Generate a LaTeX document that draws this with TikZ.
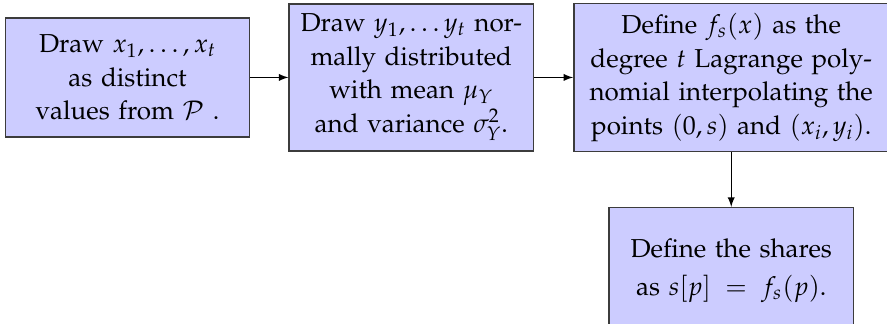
\documentclass[tikz,border=0pt]{standalone}
\usepackage[T1]{fontenc}
\usepackage{mathpazo}
\usepackage{xcolor}
\usetikzlibrary{arrows}
\usetikzlibrary{positioning, math}
\definecolor{boxfill}{RGB}{204,204,255}
\definecolor{boxline}{RGB}{60,60,60}

\tikzset{
  stepbox/.style={draw=boxline, line width=0.7pt, fill=boxfill, align=center,
    inner xsep=3pt, inner ysep=4.6pt, text width=105pt, minimum height=54pt,
    font=\fontsize{11.8pt}{15.2pt}\selectfont},
  flow/.style={-latex, line width=0.5pt},
}

\begin{document}
\begin{tikzpicture}
\tikzmath{
\gap=17.3;
\drop=24.8;
}
\useasboundingbox (-57.95pt,-112.05pt) rectangle (345.2pt,35.2pt);

\node[stepbox] (drawx) at (0,0) {Draw $x_1,\ldots,x_t$\\ as distinct\\ values from $\mathcal{P}$ .};
\node[stepbox, right=\gap pt of drawx] (drawy) {Draw $y_1,\ldots y_t$ nor-\\ mally distributed\\ with mean $\mu_Y$\\ and variance $\sigma_Y^2$.};
\node[stepbox, text width=139pt, inner xsep=2pt, right=17.7pt of drawy] (poly) {Define $f_s(x)$ as the\\ degree $t$ Lagrange poly-\\ nomial interpolating the\\ points $(0,s)$ and $(x_i,y_i)$.};
\node[stepbox, minimum height=57pt, font=\fontsize{11.8pt}{17.3pt}\selectfont, below=\drop pt of poly] (shares) {Define the shares\\ as $s[p] \,=\, f_s(p)$.};

\draw[flow] (drawx) -- (drawy);
\draw[flow] (drawy) -- (poly);
\draw[flow] (poly) -- (shares);
\end{tikzpicture}
\end{document}
